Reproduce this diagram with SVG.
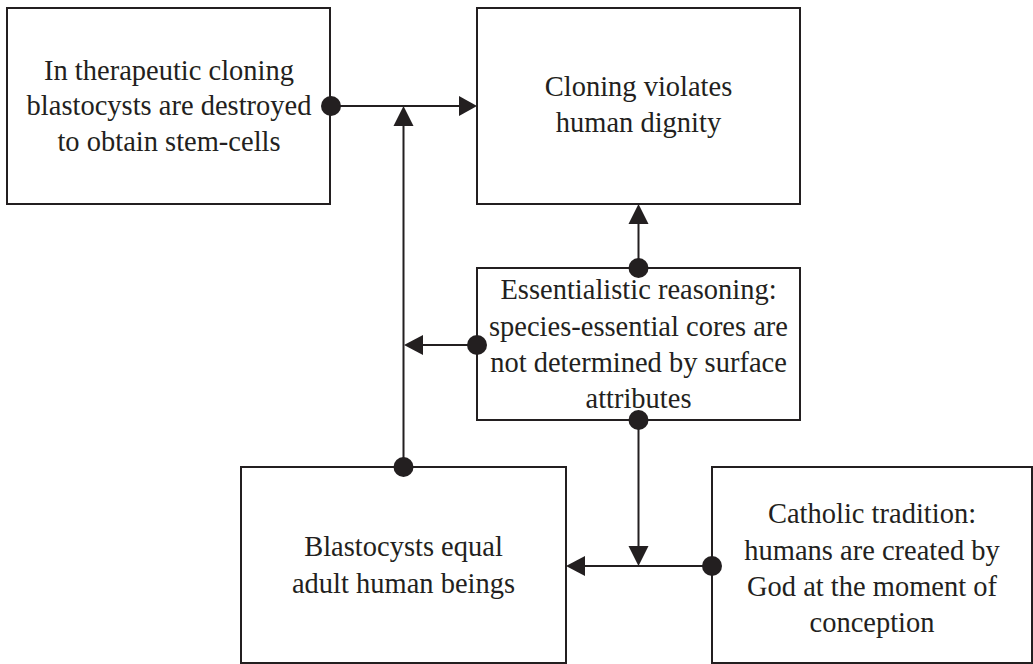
<svg xmlns="http://www.w3.org/2000/svg" width="1033" height="664" viewBox="0 0 1033 664">
  <style>
    .box { fill: #ffffff; stroke: #231f20; stroke-width: 2; }
    .label { font-family: "Liberation Serif", "Times New Roman", serif; font-size: 30px; fill: #231f20; text-anchor: middle; }
    .wire { stroke: #231f20; stroke-width: 2; fill: none; }
    .dot { fill: #231f20; }
    .head { fill: #231f20; }
  </style>
  <rect width="1033" height="664" fill="#ffffff"/>

  <g id="node-therapeutic">
    <rect class="box" x="7" y="8" width="323" height="196"/>
    <g transform="translate(169 0) scale(0.95 1)">
      <text class="label" x="0" y="80">In therapeutic cloning</text>
      <text class="label" x="0" y="115.5">blastocysts are destroyed</text>
      <text class="label" x="0" y="151">to obtain stem-cells</text>
    </g>
  </g>

  <g id="node-dignity">
    <rect class="box" x="477" y="8" width="323" height="196"/>
    <g transform="translate(638.5 0) scale(0.95 1)">
      <text class="label" x="0" y="96">Cloning violates</text>
      <text class="label" x="0" y="132">human dignity</text>
    </g>
  </g>

  <g id="node-essentialistic">
    <rect class="box" x="477" y="268" width="323" height="152"/>
    <g transform="translate(638.5 0) scale(0.95 1)">
      <text class="label" x="0" y="299">Essentialistic reasoning:</text>
      <text class="label" x="0" y="336">species-essential cores are</text>
      <text class="label" x="0" y="372">not determined by surface</text>
      <text class="label" x="0" y="408">attributes</text>
    </g>
  </g>

  <g id="node-blastocysts">
    <rect class="box" x="241" y="467" width="325" height="196"/>
    <g transform="translate(403.5 0) scale(0.95 1)">
      <text class="label" x="0" y="556">Blastocysts equal</text>
      <text class="label" x="0" y="593">adult human beings</text>
    </g>
  </g>

  <g id="node-catholic">
    <rect class="box" x="712" y="467" width="320" height="196"/>
    <g transform="translate(872 0) scale(0.95 1)">
      <text class="label" x="0" y="523">Catholic tradition:</text>
      <text class="label" x="0" y="560">humans are created by</text>
      <text class="label" x="0" y="596">God at the moment of</text>
      <text class="label" x="0" y="632">conception</text>
    </g>
  </g>

  <g id="connectors">
    <!-- therapeutic -> dignity -->
    <line class="wire" x1="331" y1="106" x2="460" y2="106"/>
    <circle class="dot" cx="331" cy="106" r="10"/>
    <polygon class="head" points="477,106 459,96 459,116"/>

    <!-- blastocysts -> junction on the top link -->
    <line class="wire" x1="403.5" y1="467" x2="403.5" y2="124"/>
    <circle class="dot" cx="403.5" cy="467" r="10"/>
    <polygon class="head" points="403.5,106 393.5,126 413.5,126"/>

    <!-- essentialistic -> dignity -->
    <line class="wire" x1="638.5" y1="268" x2="638.5" y2="222"/>
    <circle class="dot" cx="638.5" cy="268" r="10"/>
    <polygon class="head" points="638.5,204 628.5,224 648.5,224"/>

    <!-- essentialistic -> vertical link -->
    <line class="wire" x1="477" y1="345" x2="421" y2="345"/>
    <circle class="dot" cx="477" cy="345" r="10"/>
    <polygon class="head" points="404,345 423,335 423,355"/>

    <!-- essentialistic -> bottom link -->
    <line class="wire" x1="638.5" y1="420" x2="638.5" y2="548"/>
    <circle class="dot" cx="638.5" cy="420" r="10"/>
    <polygon class="head" points="638.5,566 628.5,546 648.5,546"/>

    <!-- catholic -> blastocysts -->
    <line class="wire" x1="712" y1="566" x2="584" y2="566"/>
    <circle class="dot" cx="712" cy="566" r="10"/>
    <polygon class="head" points="566,566 585,556 585,576"/>
  </g>
</svg>
